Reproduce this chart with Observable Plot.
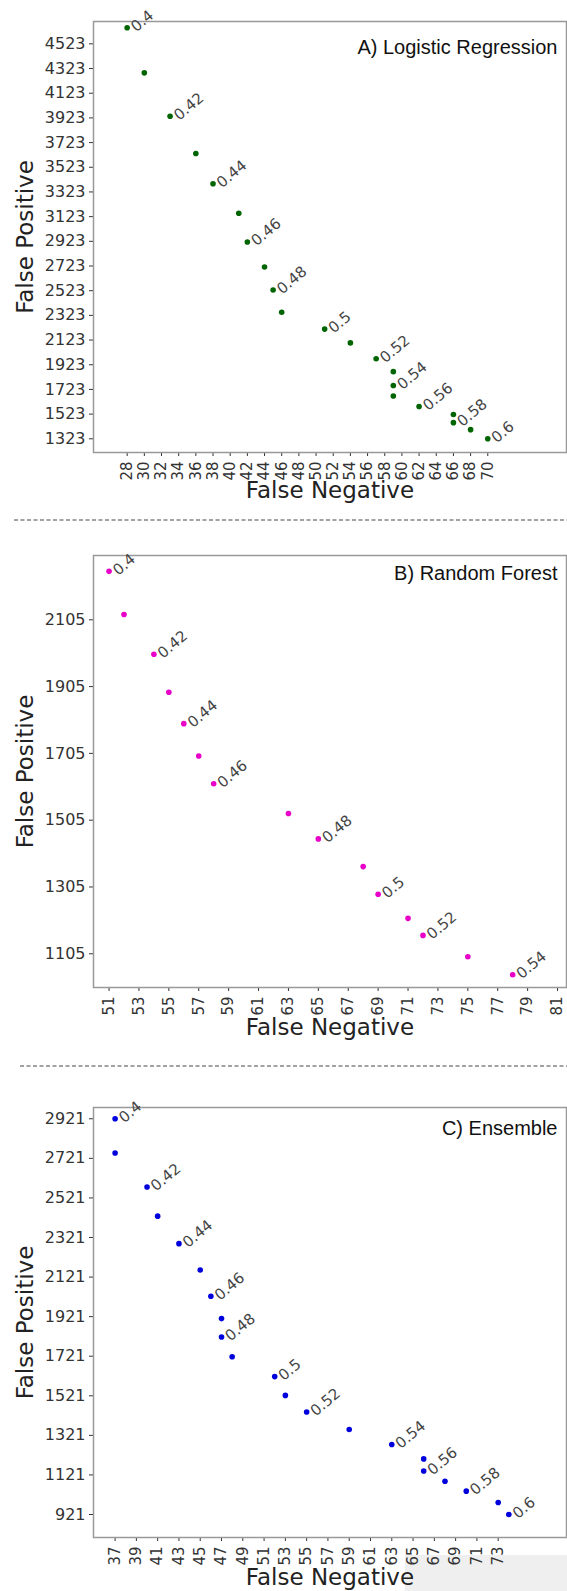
<!DOCTYPE html>
<html><head><meta charset="utf-8">
<script src="https://cdn.jsdelivr.net/npm/d3@7"></script>
<script src="https://cdn.jsdelivr.net/npm/@observablehq/plot@0.6"></script>
<style>
body{margin:0;background:#fff;}
#wrap{position:relative;width:567px;height:1591px;overflow:hidden;background:#fff;}
.panel{position:absolute;left:0;}
.sep{position:absolute;left:0;}
#shade{position:absolute;left:405px;top:1555px;width:162px;height:36px;background:#efefef;}
.panel svg [aria-label^="y-axis"] text{font-size:16px;}
</style></head><body>
<div id="wrap">
<div id="shade"></div>
<svg class="sep" style="top:515px" width="567" height="10"><line x1="14" x2="567" y1="5" y2="5" stroke="#444" stroke-width="1" stroke-dasharray="4,2.5"/></svg>
<svg class="sep" style="top:1061px" width="567" height="10"><line x1="20" x2="567" y1="5" y2="5" stroke="#444" stroke-width="1" stroke-dasharray="4,2.5"/></svg>
<div id="pA" class="panel" style="top:0px"></div>
<div id="pB" class="panel" style="top:530px"></div>
<div id="pC" class="panel" style="top:1075px"></div>
</div>
<script>
// thresholds (one point per threshold)
const thresholds = [0.40,0.41,0.42,0.43,0.44,0.45,0.46,0.47,0.48,0.49,0.50,0.51,0.52,0.53,0.54,0.55,0.56,0.57,0.58,0.59,0.60];

// A) Logistic Regression
const fnA = [28,30,33,36,38,41,42,44,45,46,51,54,57,59,59,59,62,66,66,68,70];
const fpA = [4653,4288,3936,3635,3389,3151,2918,2715,2529,2348,2212,2100,1971,1867,1755,1670,1585,1520,1454,1397,1323];
const xTicksA = [28,30,32,34,36,38,40,42,44,46,48,50,52,54,56,58,60,62,64,66,68,70];
const yTicksA = [1323,1523,1723,1923,2123,2323,2523,2723,2923,3123,3323,3523,3723,3923,4123,4323,4523];

// B) Random Forest
const fnB = [51,52,54,55,56,57,58,63,65,68,69,71,72,75,78];
const fpB = [2250,2121,2002,1888,1794,1697,1614,1525,1449,1366,1283,1211,1160,1096,1042];
const xTicksB = [51,53,55,57,59,61,63,65,67,69,71,73,75,77,79,81];
const yTicksB = [1105,1305,1505,1705,1905,2105];

// C) Ensemble
const fnC = [37,37,40,41,43,45,46,47,47,48,52,53,55,59,63,66,66,68,70,73,74];
const fpC = [2921,2748,2576,2429,2290,2157,2024,1911,1818,1718,1618,1523,1439,1351,1275,1202,1141,1089,1039,982,921];
const xTicksC = [37,39,41,43,45,47,49,51,53,55,57,59,61,63,65,67,69,71,73];
const yTicksC = [921,1121,1321,1521,1721,1921,2121,2321,2521,2721,2921];

const titles = ["A) Logistic Regression","B) Random Forest","C) Ensemble"];
const colors = ["#006400","#e800c8","#0000dd"];

function fmt(t){ return String(+t.toFixed(2)); }

function panel(o){
  const data = o.fn.map((x,i)=>({fn:x, fp:o.fp[i], lab: i%2===0 ? fmt(thresholds[i]) : null}));
  return Plot.plot({
    width:567, height:o.height,
    marginLeft:93, marginRight:1, marginTop:o.marginTop, marginBottom:o.marginBottom,
    style:{fontFamily:"DejaVu Sans", fontSize:"15px", color:"#333", background:"transparent", overflow:"visible"},
    x:{domain:o.xDomain, ticks:o.xTicks, tickFormat:d=>String(d), tickRotate:-90, tickSize:4, tickPadding:5, label:null},
    y:{domain:o.yDomain, ticks:o.yTicks, tickFormat:d=>String(d), tickSize:4, tickPadding:4, label:null},
    marks:[
      Plot.frame({stroke:"#999", strokeWidth:1.5}),
      Plot.dot(data,{x:"fn", y:"fp", r:2.8, fill:o.color, stroke:"none"}),
      Plot.text(data.filter(d=>d.lab),{x:"fn", y:"fp", text:"lab", rotate:-40, textAnchor:"start", lineAnchor:"middle", dx:6, dy:1, fill:"#444", fontSize:15, fontFamily:"DejaVu Sans"}),
      Plot.text([o.title],{text:d=>d, frameAnchor:"top-right", textAnchor:"end", lineAnchor:"top", dx:-9, dy:o.titleDy, fontSize:20, fontFamily:"Liberation Sans", fill:"#111"}),
      Plot.text(["False Negative"],{text:d=>d, frameAnchor:"bottom", lineAnchor:"bottom", dy:o.xLabDy, fontSize:23, fontFamily:"DejaVu Sans", fill:"#222"}),
      Plot.text(["False Positive"],{text:d=>d, frameAnchor:"left", rotate:-90, textAnchor:"middle", lineAnchor:"middle", dx:-68, fontSize:23, fontFamily:"DejaVu Sans", fill:"#222"})
    ]
  });
}

document.getElementById("pA").append(panel({fn:fnA, fp:fpA, color:colors[0], title:titles[0],
  xDomain:[24.08,79.17], yDomain:[1212,4704], xTicks:xTicksA, yTicks:yTicksA,
  height:505, marginTop:21, marginBottom:53, titleDy:18, xLabDy:45}));
document.getElementById("pB").append(panel({fn:fnB, fp:fpB, color:colors[1], title:titles[1],
  xDomain:[49.96,81.6], yDomain:[1004,2297.5], xTicks:xTicksB, yTicks:yTicksB,
  height:512, marginTop:25, marginBottom:55, titleDy:10, xLabDy:47}));
document.getElementById("pC").append(panel({fn:fnC, fp:fpC, color:colors[2], title:titles[2],
  xDomain:[34.97,79.42], yDomain:[804.8,2978], xTicks:xTicksC, yTicks:yTicksC,
  height:516, marginTop:32, marginBottom:54, titleDy:13, xLabDy:47}));
</script>
</body></html>
